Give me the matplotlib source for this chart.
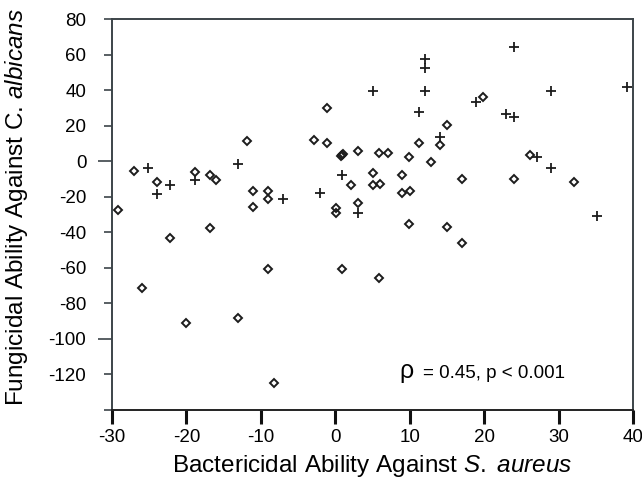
"""
Fungicidal vs bactericidal ability scatter
"""

import matplotlib
matplotlib.use("Agg")

import matplotlib.pyplot as plt


# ==========================================================
# DATA
# ==========================================================

# open diamonds
diamond_x = [
    -29.2, -27.1, -26.0, -23.9, -22.2, -20.1, -18.9, -16.9, -16.0, -16.9,
    -13.1, -11.9, -11.1, -11.1, -9.1, -9.1, -9.1, -8.2, -2.9, -1.1,
    -1.1, 0.1, 0.1, 0.8, 0.9, 1.0, 0.9, 2.1, 3.0, 3.0,
    5.0, 5.0, 6.0, 5.9, 7.1, 5.9, 9.0, 9.0, 10.0, 9.9,
    9.9, 11.2, 12.9, 14.1, 15.0, 15.0, 17.0, 17.0, 19.9, 24.0,
    26.1, 32.1
]
diamond_y = [
    -27.5, -5.4, -71.6, -11.6, -43.4, -91.2, -6.3, -7.8, -10.6, -37.8,
    -88.4, 11.5, -16.6, -26.0, -16.6, -21.3, -60.7, -125.0, 11.9, 10.4,
    29.7, -26.5, -29.3, 3.1, 3.5, 3.9, -60.7, -13.6, 5.9, -23.4,
    -6.5, -13.6, -12.9, 4.4, 4.4, -65.6, -7.8, -17.7, -16.6, 2.2,
    -35.4, 10.4, -0.6, 9.1, 20.2, -36.8, -10.2, -45.9, 35.9, -10.2,
    3.3, -11.6
]

# crosses
plus_x = [
    -25.1, -23.9, -22.2, -18.9, -13.1, -7.0, -2.05, 0.9, 3.0, 5.0,
    11.2, 12.0, 12.0, 12.0, 14.1, 18.9, 23.0, 24.0, 24.0, 27.1,
    29.0, 29.0, 35.1, 39.2
]
plus_y = [
    -4.0, -18.7, -13.6, -10.6, -1.6, -21.3, -17.7, -7.8, -29.3, 39.7,
    27.8, 57.3, 52.3, 39.7, 13.4, 33.5, 26.5, 24.7, 64.1, 2.2,
    39.7, -4.0, -30.9, 41.9
]

x_ticks = [-30, -20, -10, 0, 10, 20, 30, 40]
y_ticks = [-140, -120, -100, -80, -60, -40, -20, 0, 20, 40, 60, 80]

rho_symbol = "\u03c1"
stat_text = "= 0.45, p < 0.001"


# ==========================================================
# PLOT
# ==========================================================

def make_plot():

    plt.rcParams["font.family"] = ["Liberation Sans", "DejaVu Sans"]
    plt.rcParams["mathtext.fontset"] = "custom"
    plt.rcParams["mathtext.rm"] = "Liberation Sans"
    plt.rcParams["mathtext.it"] = "Liberation Sans:italic"

    fig = plt.figure(figsize=(6.42, 4.84), dpi=100)
    ax = fig.add_axes([0.1745, 0.1529, 0.8115, 0.8078])

    ink = "#1c1c1c"
    spine_col = "#3c4449"

    ax.plot(
        diamond_x,
        diamond_y,
        linestyle="none",
        marker="D",
        markersize=4.5,
        markerfacecolor="none",
        markeredgecolor=ink,
        markeredgewidth=1.4
    )

    ax.plot(
        plus_x,
        plus_y,
        linestyle="none",
        marker="+",
        markersize=7,
        markeredgecolor=ink,
        markeredgewidth=1.3
    )

    ax.set_xlim(-30, 40)
    ax.set_ylim(-140, 80)

    ax.set_xticks(x_ticks)
    ax.set_xticklabels([str(v) for v in x_ticks])

    ax.set_yticks(y_ticks)
    ax.set_yticklabels(["" if v == -140 else str(v) for v in y_ticks])

    ax.tick_params(
        axis="x",
        direction="out",
        length=10,
        width=2.2,
        pad=4,
        labelsize=13.5,
        color="#111111"
    )
    ax.tick_params(
        axis="y",
        direction="out",
        length=5.5,
        width=1.2,
        pad=13,
        labelsize=13.5,
        color=spine_col
    )

    # 0 and -100 ticks are drawn longer
    for tick, val in zip(ax.yaxis.get_major_ticks(), y_ticks):
        if val in (0, -100):
            tick.tick1line.set_markersize(10)

    for side in ["left", "right", "top"]:
        ax.spines[side].set_color(spine_col)
        ax.spines[side].set_linewidth(1.4)
    ax.spines["bottom"].set_color("#222222")
    ax.spines["bottom"].set_linewidth(1.4)

    ax.set_xlabel(
        r"Bactericidal Ability Against $\mathit{S.}$ $\mathit{aureus}$",
        fontsize=17.5,
        labelpad=5
    )
    ax.set_ylabel(
        r"Fungicidal Ability Against C. $\mathit{albicans}$",
        fontsize=17.5
    )
    ax.yaxis.set_label_coords(-0.157, 0.52)

    ax.text(
        8.6,
        -122.0,
        rho_symbol,
        fontsize=18,
        ha="left",
        va="baseline"
    )
    ax.text(
        11.8,
        -122.0,
        stat_text,
        fontsize=13.5,
        ha="left",
        va="baseline"
    )

    fig.savefig("out.png", dpi=100)


# ==========================================================
# MAIN
# ==========================================================

def main():
    make_plot()


if __name__ == "__main__":
    main()
